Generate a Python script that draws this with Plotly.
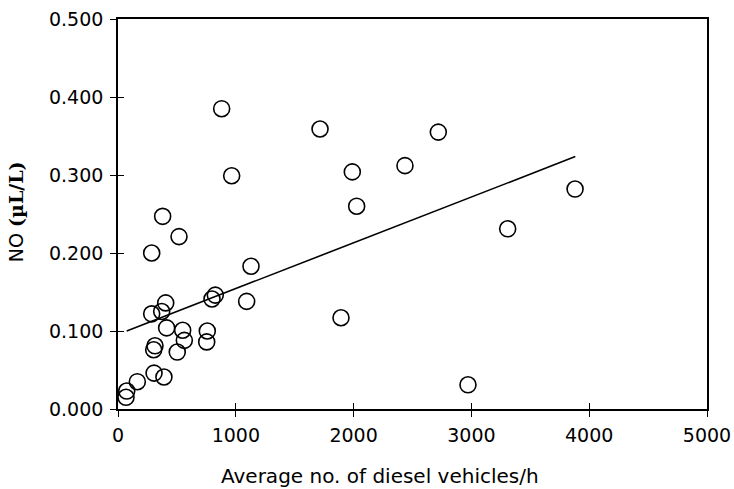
import plotly.graph_objects as go

# Diesel traffic (vehicles/h) and measured NO concentration (µL/L)
diesel_per_h = [68, 74, 164, 306, 390, 303, 314, 503, 563, 549, 413, 286, 371, 405,
                758, 753, 798, 826, 286, 518, 379, 880, 965, 1092, 1129, 1715, 1893,
                1989, 2026, 2436, 2719, 2971, 3308, 3880]
no_conc = [0.015, 0.023, 0.035, 0.046, 0.041, 0.076, 0.081, 0.073, 0.088, 0.101, 0.104,
           0.122, 0.125, 0.136, 0.100, 0.086, 0.141, 0.146, 0.200, 0.221, 0.247, 0.385,
           0.299, 0.138, 0.183, 0.359, 0.117, 0.304, 0.260, 0.312, 0.355, 0.031, 0.231,
           0.282]

# Linear regression line
fit_intercept = 0.0957
fit_slope = 5.87e-5
fit_x = [74, 3882]
fit_y = [fit_intercept + fit_slope * v for v in fit_x]

x_ticks = [0, 1000, 2000, 3000, 4000, 5000]
y_ticks = [0.0, 0.1, 0.2, 0.3, 0.4, 0.5]
y_tick_text = ["0.000", "0.100", "0.200", "0.300", "0.400", "0.500"]

FONT = "DejaVu Sans"

fig = go.Figure()
fig.add_trace(go.Scatter(
    x=fit_x, y=fit_y, mode="lines",
    line=dict(color="black", width=1.6), showlegend=False, hoverinfo="skip"))
fig.add_trace(go.Scatter(
    x=diesel_per_h, y=no_conc, mode="markers",
    marker=dict(symbol="circle-open", size=16, color="black", line=dict(width=1.6)),
    showlegend=False))
# empty trace on overlay axes to draw inward tick marks (crossing ticks)
fig.add_trace(go.Scatter(x=[], y=[], xaxis="x2", yaxis="y2", showlegend=False))

axis_common = dict(showgrid=False, zeroline=False, linecolor="black", linewidth=1.6,
                   tickcolor="black", tickwidth=1.4, ticklen=6, automargin=False,
                   tickfont=dict(family=FONT, size=19, color="black"))

fig.update_layout(
    width=734, height=489,
    margin=dict(l=118, r=27, t=19, b=80, autoexpand=False),
    paper_bgcolor="white", plot_bgcolor="white",
    font=dict(family=FONT, color="black"),
    xaxis=dict(range=[0, 5000], tickvals=x_ticks, ticks="outside", mirror=True,
               ticklabelstandoff=2, **axis_common),
    yaxis=dict(range=[0, 0.5], tickvals=y_ticks, ticktext=y_tick_text, ticks="outside",
               mirror=True, ticklabelstandoff=3, **axis_common),
    xaxis2=dict(range=[0, 5000], tickvals=x_ticks[1:-1], ticks="inside", overlaying="x",
                anchor="y", showticklabels=False, showline=False, showgrid=False,
                zeroline=False, tickcolor="black", tickwidth=1.4, ticklen=6),
    yaxis2=dict(range=[0, 0.5], tickvals=y_ticks[1:-1], ticks="inside", overlaying="y",
                anchor="x", showticklabels=False, showline=False, showgrid=False,
                zeroline=False, tickcolor="black", tickwidth=1.4, ticklen=6),
    annotations=[
        dict(text="Average no. of diesel vehicles/h", xref="paper", yref="paper",
             x=0.445, y=-0.172, xanchor="center", yanchor="middle", showarrow=False,
             font=dict(family=FONT, size=20, color="black")),
        dict(text="<span style='font-family:DejaVu Sans'>NO</span> "
                  "<b>(µL/L)</b>",
             xref="paper", yref="paper", x=-0.173, y=0.505, xanchor="center",
             yanchor="middle", showarrow=False, textangle=-90,
             font=dict(family="DejaVu Serif", size=19, color="black")),
    ],
)

fig.write_html("out.html")
